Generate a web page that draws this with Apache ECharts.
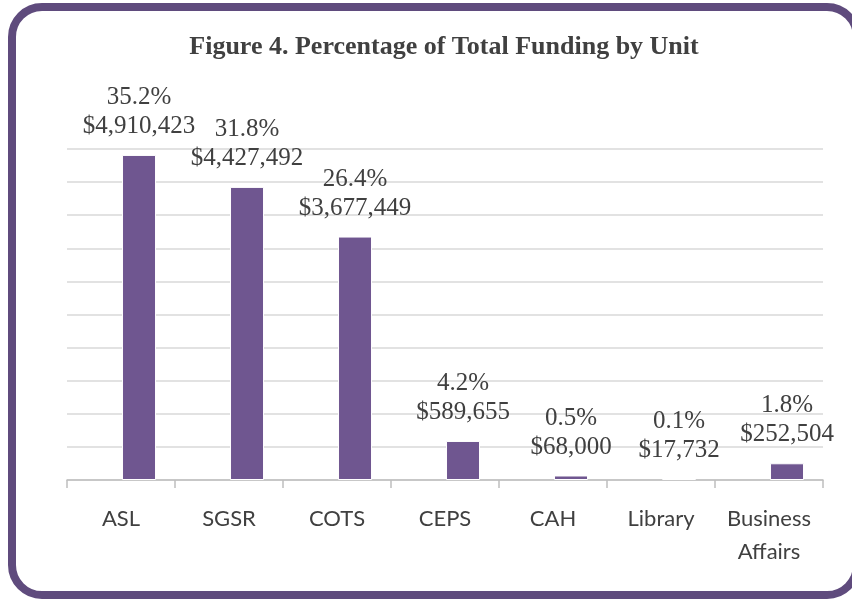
<!DOCTYPE html>
<html>
<head>
<meta charset="utf-8">
<script src="https://cdn.jsdelivr.net/npm/echarts@6/dist/echarts.min.js"></script>
<style>
  html, body { margin: 0; padding: 0; background: #fff; overflow: hidden; }
  #frame {
    position: absolute; left: 8px; top: 3px; width: 853px; height: 596px;
    box-sizing: border-box; border: 8px solid #5f4b7d; border-radius: 34px;
  }
  #main { position: absolute; left: 0; top: 0; width: 852px; height: 600px; }
</style>
</head>
<body>
<div id="frame"></div>
<div id="main"></div>
<script>
// 单位与经费
var units = ['ASL', 'SGSR', 'COTS', 'CEPS', 'CAH', 'Library', 'Business\nAffairs'];
var funding = [4910423, 4427492, 3677449, 589655, 68000, 17732, 252504];
var percents = ['35.2%', '31.8%', '26.4%', '4.2%', '0.5%', '0.1%', '1.8%'];

var myChart = echarts.init(document.getElementById('main'));

var option = {
    animation: false,
    title: {
        text: 'Figure 4. Percentage of Total Funding by Unit',
        left: 439,
        textAlign: 'center',
        top: 29,
        textStyle: {
            fontFamily: 'Liberation Serif',
            fontWeight: 'bold',
            fontSize: 26,
            color: '#404040'
        }
    },
    grid: { left: 67, right: 29, top: 149, bottom: 120 },
    xAxis: {
        type: 'category',
        data: units,
        axisLine: { lineStyle: { color: '#bfbfbf', width: 1.5 } },
        axisTick: { show: true, interval: 0, length: 8, lineStyle: { color: '#bfbfbf', width: 1.5 } },
        axisLabel: {
            interval: 0,
            margin: 22,
            fontFamily: 'Lato',
            fontSize: 22,
            lineHeight: 33,
            color: '#404040'
        }
    },
    yAxis: {
        type: 'value',
        min: 0,
        max: 5000000,
        interval: 500000,
        axisLabel: { show: false },
        axisLine: { show: false },
        axisTick: { show: false },
        splitLine: { lineStyle: { color: '#d9d9d9', width: 1.5 } }
    },
    series: [
        // 空系列，占位（原图柱子偏右）
        { type: 'bar', barWidth: 34, barGap: '6%', data: [] },
        {
            type: 'bar',
            barWidth: 34,
            barGap: '6%',
            data: funding,
            itemStyle: { color: '#6f5690', borderColor: '#fff', borderWidth: 1 },
            label: {
                show: true,
                position: 'top',
                distance: 14,
                formatter: function (p) {
                    return percents[p.dataIndex] + '\n$' + p.value.toLocaleString('en-US');
                },
                fontFamily: 'Liberation Serif',
                fontSize: 25,
                lineHeight: 29,
                color: '#404040'
            }
        }
    ]
};

myChart.setOption(option);
</script>
</body>
</html>
